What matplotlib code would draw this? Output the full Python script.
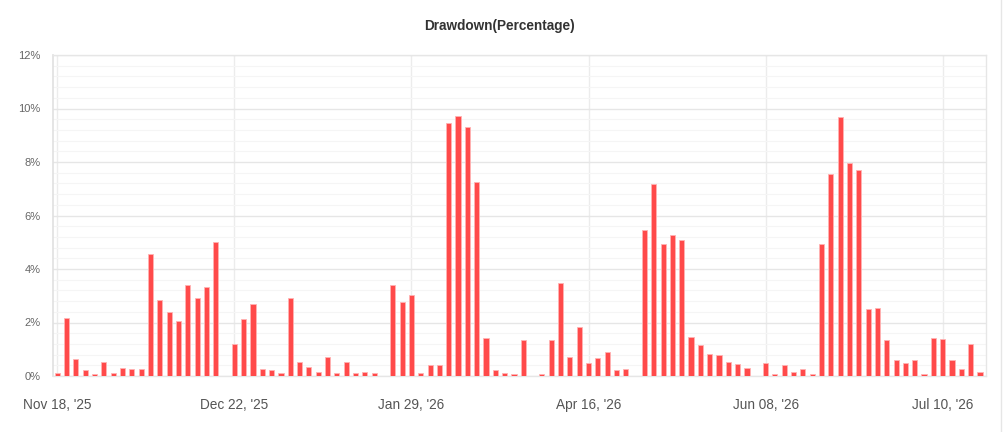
import numpy as np
import matplotlib
matplotlib.use("Agg")
import matplotlib.pyplot as plt
from matplotlib.ticker import MultipleLocator, FuncFormatter

plt.rcParams['font.family'] = ['Liberation Sans', 'DejaVu Sans']

# drawdown per period, in percent (0 = no bar)
drawdown = [
    0.11, 2.17, 0.62, 0.21, 0.07, 0.54, 0.11, 0.29, 0.25, 0.25,
    4.55, 2.83, 2.40, 2.07, 3.39, 2.92, 3.34, 5.02, 0.00, 1.18,
    2.12, 2.68, 0.25, 0.21, 0.11, 2.92, 0.54, 0.35, 0.16, 0.72,
    0.11, 0.54, 0.11, 0.16, 0.11, 0.00, 3.39, 2.78, 3.02, 0.11,
    0.40, 0.40, 9.46, 9.73, 9.32, 7.26, 1.42, 0.21, 0.11, 0.07,
    1.33, 0.00, 0.07, 1.33, 3.48, 0.72, 1.84, 0.49, 0.67, 0.91,
    0.21, 0.25, 0.00, 5.45, 7.17, 4.93, 5.26, 5.07, 1.47, 1.15,
    0.82, 0.77, 0.54, 0.45, 0.30, 0.00, 0.49, 0.07, 0.40, 0.16,
    0.25, 0.07, 4.93, 7.55, 9.69, 7.96, 7.69, 2.49, 2.54, 1.33,
    0.59, 0.49, 0.59, 0.07, 1.42, 1.37, 0.59, 0.25, 1.18, 0.16,
]
tick_pos = [0, 19, 38, 57, 76, 95]
tick_labels = ["Nov 18, '25", "Dec 22, '25", "Jan 29, '26",
               "Apr 16, '26", "Jun 08, '26", "Jul 10, '26"]

fig = plt.figure(figsize=(10.05, 4.32), dpi=100)
ax = fig.add_axes([53 / 1005, 1 - 376 / 432, 933 / 1005, 321 / 432])

x = np.arange(len(drawdown))
ax.bar(x, drawdown, width=0.55, color='#ff4a4a', edgecolor='#ffb3b3',
       linewidth=0.6, zorder=3)

ax.set_xlim(-0.46, 99.65)
ax.set_ylim(0, 12)
ax.yaxis.set_major_locator(MultipleLocator(2))
ax.yaxis.set_minor_locator(MultipleLocator(0.4))
ax.yaxis.set_major_formatter(FuncFormatter(lambda v, p: '%d%%' % v))
ax.set_xticks(tick_pos)
ax.set_xticklabels(tick_labels)

ax.grid(axis='y', which='major', color='#e6e6e6', linewidth=1.0, zorder=0)
ax.grid(axis='y', which='minor', color='#f5f5f5', linewidth=0.8, zorder=0)
ax.grid(axis='x', which='major', color='#ececec', linewidth=1.0, zorder=0)

for side in ['top', 'right', 'bottom']:
    ax.spines[side].set_color('#e6e6e6')
    ax.spines[side].set_linewidth(1.0)
ax.spines['left'].set_color('#e0e0e0')
ax.spines['left'].set_linewidth(1.2)

ax.tick_params(axis='y', which='both', length=0, pad=9, labelsize=8,
               labelcolor='#666666')
ax.tick_params(axis='x', length=0, pad=16, labelsize=9.8,
               labelcolor='#555555')

fig.text(0.497, 1 - 26 / 432, 'Drawdown(Percentage)', ha='center',
         va='center', fontsize=9.8, fontweight='bold', color='#333333')

# light frame line on the right edge of the chart container
fig.add_artist(plt.Line2D([1000.5 / 1005, 1000.5 / 1005], [0, 1],
                          color='#e6e6e6', linewidth=1.0,
                          transform=fig.transFigure))

fig.savefig('out.png', dpi=100)
